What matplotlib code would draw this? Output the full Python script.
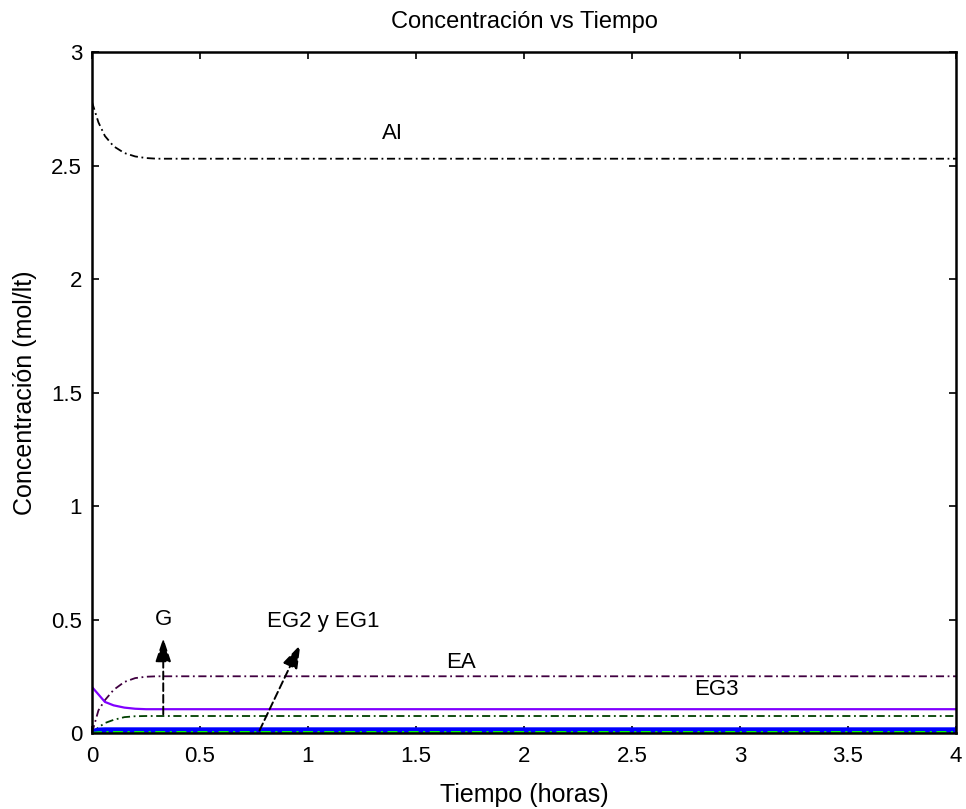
import numpy as np
import matplotlib
matplotlib.use('Agg')
import matplotlib.pyplot as plt

plt.rcParams['font.family'] = ['Liberation Sans', 'DejaVu Sans']

# Tiempo (horas) y concentraciones (mol/lt)
t = [0, 0.03, 0.06, 0.1, 0.15, 0.2, 0.25, 0.3, 0.5, 1, 2, 3, 4]
c_ai = [2.78, 2.69, 2.63, 2.585, 2.555, 2.54, 2.533, 2.53, 2.53, 2.53, 2.53, 2.53, 2.53]
c_ea = [0.0, 0.10, 0.145, 0.19, 0.225, 0.242, 0.248, 0.25, 0.25, 0.25, 0.25, 0.25, 0.25]
c_eg3 = [0.203, 0.17, 0.137, 0.122, 0.112, 0.107, 0.105, 0.105, 0.105, 0.105, 0.105, 0.105, 0.105]
c_g = [0.0, 0.025, 0.044, 0.058, 0.07, 0.074, 0.075, 0.075, 0.075, 0.075, 0.075, 0.075, 0.075]
c_eg2 = [0.005, 0.012, 0.013, 0.013, 0.013, 0.013, 0.013, 0.013, 0.013, 0.013, 0.013, 0.013, 0.013]
c_eg1 = [0.0, 0.003, 0.004, 0.004, 0.004, 0.004, 0.004, 0.004, 0.004, 0.004, 0.004, 0.004, 0.004]

fig = plt.figure(figsize=(9.66, 8.09), dpi=100)
ax = fig.add_axes([0.0952, 0.0939, 0.8945, 0.8418])

dashdot = (0, (4.5, 2, 1, 2))
ax.plot(t, c_ai, color='black', lw=1.3, ls=dashdot)
ax.plot(t, c_ea, color='#400040', lw=1.3, ls=dashdot)
ax.plot(t, c_eg3, color='#8000ff', lw=1.6, ls='-')
ax.plot(t, c_g, color='#004000', lw=1.3, ls=dashdot)
ax.plot(t, c_eg2, color='#0000ff', lw=4, ls='-', solid_capstyle='round')
ax.plot(t, c_eg1, color='#00ff00', lw=1.6, ls=dashdot)

# etiquetas y flechas
fs = 16
ax.text(1.39, 2.64, 'AI', fontsize=fs, ha='center', va='center')
ax.text(1.71, 0.31, 'EA', fontsize=fs, ha='center', va='center')
ax.text(2.89, 0.19, 'EG3', fontsize=fs, ha='center', va='center')
ax.text(0.33, 0.50, 'G', fontsize=fs, ha='center', va='center')
ax.text(1.07, 0.49, 'EG2 y EG1', fontsize=fs, ha='center', va='center')
arrow = dict(arrowstyle='-|>,head_length=0.9,head_width=0.3', color='black', lw=1.4,
             ls=(0, (4, 2)), mutation_scale=16)
ax.annotate('', xy=(0.33, 0.43), xytext=(0.33, 0.07), arrowprops=arrow)
ax.annotate('', xy=(0.97, 0.40), xytext=(0.77, 0.0), arrowprops=arrow)

ax.set_xlim(0, 4)
ax.set_ylim(0, 3)
ax.set_xticks(np.arange(0, 4.01, 0.5))
ax.set_yticks(np.arange(0, 3.01, 0.5))
ax.set_xticklabels(['0', '0.5', '1', '1.5', '2', '2.5', '3', '3.5', '4'])
ax.set_yticklabels(['0', '0.5', '1', '1.5', '2', '2.5', '3'])
ax.tick_params(direction='in', top=True, right=True, length=5, width=1.2, labelsize=16)
ax.tick_params(axis='x', pad=9)
ax.tick_params(axis='y', pad=7)
for s in ax.spines.values():
    s.set_linewidth(1.8)

ax.set_title('Concentración vs Tiempo', fontsize=17, pad=17)
ax.set_xlabel('Tiempo (horas)', fontsize=18, labelpad=12)
ax.set_ylabel('Concentración (mol/lt)', fontsize=18, labelpad=10)

fig.savefig('out.png', dpi=100, facecolor='white')
